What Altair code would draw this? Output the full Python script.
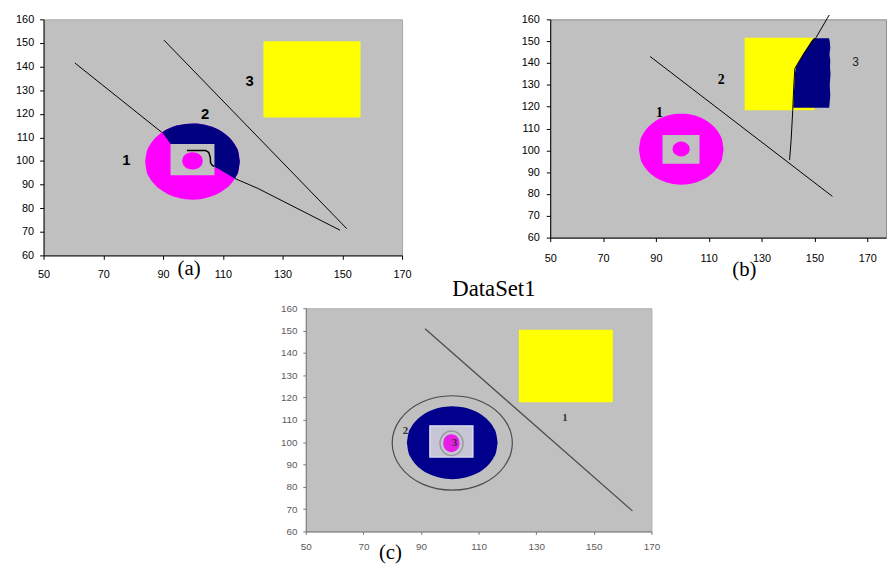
import altair as alt
import pandas as pd

GRAY = "#c0c0c0"
MAG = "#ff00ff"
NAVY = "#000080"
YEL = "#ffff00"
SERIF = "Liberation Serif"
SANS = "Liberation Sans"

# ---------------- panel (a) data ----------------
a_ring_x = [84.0, 84.5, 85.5, 87.0, 89.0, 91.5, 94.5, 97.5, 100.0, 102.5, 105.5, 108.5, 111.0, 113.0, 114.5, 115.2, 115.7]
a_ring_top = [99.8, 103.8, 106.6, 109.2, 111.5, 113.5, 115.0, 115.7, 115.9, 115.7, 114.8, 113.3, 111.2, 108.8, 105.9, 103.8, 99.8]
a_ring_bot = [99.8, 95.7, 92.9, 90.3, 88.0, 86.0, 84.6, 83.8, 83.6, 83.8, 84.7, 86.2, 88.3, 90.7, 93.6, 95.7, 99.8]

a_navy_x = [89.7, 91.5, 92.5, 94.5, 97.5, 100.0, 102.5, 105.5, 107.4, 108.5, 111.0, 113.0, 114.0, 114.5, 115.2, 115.7]
a_navy_top = [112.1, 113.5, 114.1, 115.0, 115.7, 115.9, 115.7, 114.8, 114.0, 113.3, 111.2, 108.8, 107.0, 105.9, 103.8, 99.8]
a_navy_bot = [112.1, 109.0, 107.2, 105.9, 103.9, 102.3, 100.7, 98.7, 97.5, 96.7, 94.8, 93.3, 92.6, 93.6, 95.7, 99.8]

a_hole = [92.5, 107.2, 94.0, 107.2]  # x1, x2, y1, y2

a_disk_x = [96.4, 96.6, 97.2, 98.2, 99.85, 101.5, 102.5, 103.1, 103.3]
a_disk_top = [100.05, 101.3, 102.4, 103.25, 103.7, 103.25, 102.4, 101.3, 100.05]
a_disk_bot = [100.05, 98.8, 97.7, 96.85, 96.4, 96.85, 97.7, 98.8, 100.05]

a_yellow = [123.6, 156.1, 118.4, 150.7]

a_line_seg = ["A", "A", "B", "B", "B", "B", "B", "B", "B", "C", "C", "C", "D", "D"]
a_line_x = [60.5, 89.7, 98.0, 104.3, 105.3, 105.8, 105.9, 106.5, 107.2, 114.0, 121.7, 149.2, 90.3, 151.5]
a_line_y = [141.5, 112.0, 104.4, 104.4, 103.6, 101.6, 99.2, 98.1, 97.7, 92.6, 88.4, 70.7, 151.2, 71.3]

a_lab_t = ["1", "2", "3"]
a_lab_x = [77.7, 104.1, 119.0]
a_lab_y = [100.5, 120.0, 133.7]

# ---------------- panel (b) data ----------------
b_ring_x = [83.6, 84.1, 85.1, 86.6, 88.6, 91.1, 94.1, 97.1, 99.6, 102.1, 105.1, 108.1, 110.6, 112.6, 114.1, 115.1, 115.6]
b_ring_top = [100.5, 104.5, 107.4, 110.0, 112.3, 114.3, 115.8, 116.6, 116.8, 116.6, 115.8, 114.3, 112.3, 110.0, 107.4, 104.5, 100.5]
b_ring_bot = [100.5, 96.5, 93.6, 91.0, 88.7, 86.7, 85.2, 84.4, 84.2, 84.4, 85.2, 86.7, 88.7, 91.0, 93.6, 96.5, 100.5]

b_hole = [92.5, 106.5, 93.8, 107.0]

b_disk_x = [96.3, 96.5, 97.1, 98.0, 99.55, 101.1, 102.0, 102.6, 102.8]
b_disk_top = [100.6, 101.8, 102.8, 103.6, 104.0, 103.6, 102.8, 101.8, 100.6]
b_disk_bot = [100.6, 99.4, 98.4, 97.6, 97.2, 97.6, 98.4, 99.4, 100.6]

b_yellow = [123.6, 150.0, 118.3, 151.6]

b_navy_y = [119.5, 125.0, 130.0, 135.0, 138.0, 141.0, 144.0, 147.0, 150.0, 151.4]
b_navy_xl = [142.0, 142.2, 142.4, 142.6, 143.0, 144.3, 145.6, 147.2, 148.8, 149.7]
b_navy_xr = [155.6, 156.0, 155.8, 156.1, 155.9, 156.0, 155.7, 156.0, 155.8, 155.5]

b_line_seg = ["E"] * 9 + ["F", "F"]
b_line_x = [140.6, 141.2, 141.8, 142.2, 142.6, 144.3, 146.5, 150.6, 155.6, 87.8, 156.8]
b_line_y = [95.6, 105.0, 118.3, 130.0, 137.5, 141.0, 145.0, 151.6, 162.0, 143.0, 78.9]

b_lab_t = ["1", "2"]
b_lab_x = [91.3, 114.7]
b_lab_y = [117.1, 132.0]
b_lab3 = ["3", 165.6, 140.3]

# ---------------- panel (c) data ----------------
c_ring_x = [85.1, 85.6, 86.6, 88.1, 90.1, 92.6, 95.6, 98.6, 100.85, 103.1, 106.1, 109.1, 111.6, 113.6, 115.1, 116.1, 116.6]
c_ring_top = [99.75, 103.8, 106.7, 109.35, 111.7, 113.7, 115.2, 115.9, 116.1, 115.9, 115.2, 113.7, 111.7, 109.35, 106.7, 103.8, 99.75]
c_ring_bot = [99.75, 95.7, 92.8, 90.15, 87.8, 85.8, 84.35, 83.6, 83.4, 83.6, 84.35, 85.8, 87.8, 90.15, 92.8, 95.7, 99.75]

c_hole = [93.1, 108.0, 93.3, 107.3]

c_disk_x = [97.7, 97.9, 98.4, 99.2, 100.55, 101.9, 102.7, 103.2, 103.4]
c_disk_top = [99.55, 101.0, 102.2, 103.1, 103.6, 103.1, 102.2, 101.0, 99.55]
c_disk_bot = [99.55, 98.1, 96.9, 96.0, 95.5, 96.0, 96.9, 98.1, 99.55]

c_halo_x = [104.6, 103.4, 100.6, 97.8, 96.6, 97.8, 100.6, 103.4]
c_halo_y = [99.5, 103.4, 105.0, 103.4, 99.5, 95.6, 94.0, 95.6]

c_circ_x = [121.7, 118.9, 111.3, 100.85, 90.4, 82.8, 80.0, 82.8, 90.4, 100.85, 111.3, 118.9]
c_circ_y = [99.65, 110.2, 118.0, 120.8, 118.0, 110.2, 99.65, 89.1, 81.3, 78.5, 81.3, 89.1]

c_yellow = [124.0, 156.6, 117.9, 150.4]

c_line_x = [91.4, 163.4]
c_line_y = [150.8, 69.2]

c_lab_t = ["1", "2", "3"]
c_lab_x = [140.0, 84.6, 101.6]
c_lab_y = [111.0, 105.0, 99.8]

X_TICKS = [50, 70, 90, 110, 130, 150, 170]
Y_TICKS = [60, 70, 80, 90, 100, 110, 120, 130, 140, 150, 160]


def make_axes(xdom, ydom, lab_color, lab_size, dom_color, xpad, ypad, tick):
    xs = alt.Scale(domain=xdom, nice=False, zero=False)
    ys = alt.Scale(domain=ydom, nice=False, zero=False)
    ax = alt.Axis(values=X_TICKS, title=None, grid=False, domainColor=dom_color,
                  tickColor=dom_color, tickSize=tick, labelPadding=xpad,
                  labelFont=SANS, labelFontSize=lab_size, labelColor=lab_color,
                  labelFlush=False, labelOverlap=False)
    ay = alt.Axis(values=Y_TICKS, title=None, grid=False, domainColor=dom_color,
                  tickColor=dom_color, tickSize=tick, labelPadding=ypad,
                  labelFont=SANS, labelFontSize=lab_size, labelColor=lab_color,
                  labelFlush=False, labelOverlap=False)

    def X(f):
        return alt.X(f, type="quantitative", scale=xs, axis=ax)

    def Y(f):
        return alt.Y(f, type="quantitative", scale=ys, axis=ay)

    return X, Y


def ellipse_area(X, Y, xs, top, bot, color):
    df = pd.DataFrame({"x": xs, "top": top, "bot": bot})
    return alt.Chart(df).mark_area(color=color, interpolate="monotone").encode(
        x=X("x"), y=Y("top"), y2=alt.Y2("bot"))


def box(X, Y, vals, color, stroke=None):
    df = pd.DataFrame({"x1": [vals[0]], "x2": [vals[1]], "y1": [vals[2]], "y2": [vals[3]]})
    kw = {"color": color}
    if stroke:
        kw.update(stroke=stroke, strokeWidth=1.5)
    return alt.Chart(df).mark_rect(**kw).encode(
        x=X("x1"), x2=alt.X2("x2"), y=Y("y1"), y2=alt.Y2("y2"))


def text_layer(X, Y, ts, xs, ys, **mk):
    df = pd.DataFrame({"t": ts, "x": xs, "y": ys})
    return alt.Chart(df).mark_text(**mk).encode(x=X("x"), y=Y("y"), text="t:N")


def lines(X, Y, seg, xs, ys, **mk):
    df = pd.DataFrame({"seg": seg, "x": xs, "y": ys, "i": list(range(len(xs)))})
    return alt.Chart(df).mark_line(**mk).encode(
        x=X("x"), y=Y("y"), detail="seg:N", order=alt.Order("i:Q"))


# ---------------- panel (a) ----------------
XA, YA = make_axes([50, 170], [60, 160], "black", 11, "black", 9, 6, 4)
panel_a = alt.layer(
    lines(XA, YA, a_line_seg, a_line_x, a_line_y, color="black", strokeWidth=1),
    ellipse_area(XA, YA, a_ring_x, a_ring_top, a_ring_bot, MAG),
    ellipse_area(XA, YA, a_navy_x, a_navy_top, a_navy_bot, NAVY),
    box(XA, YA, a_hole, GRAY),
    ellipse_area(XA, YA, a_disk_x, a_disk_top, a_disk_bot, MAG),
    box(XA, YA, a_yellow, YEL),
    lines(XA, YA, [s for s in a_line_seg if s == "B"],
          [x for s, x in zip(a_line_seg, a_line_x) if s == "B"],
          [y for s, y in zip(a_line_seg, a_line_y) if s == "B"],
          color="black", strokeWidth=1.5),
    text_layer(XA, YA, a_lab_t, a_lab_x, a_lab_y, font=SANS, fontSize=15,
               fontWeight="bold", color="black"),
    text_layer(XA, YA, ["(a)"], [98.7], [54.4], font=SERIF, fontSize=21,
               color="black", baseline="middle"),
).properties(width=363, height=239,
             view=alt.ViewBackground(fill=GRAY, stroke="#a8a8a8"))

# ---------------- panel (b) ----------------
XB, YB = make_axes([50, 177.1], [60, 160], "black", 11, "black", 11, 7, 4)
b_navy_df = pd.DataFrame({"y": b_navy_y, "xl": b_navy_xl, "xr": b_navy_xr})
panel_b = alt.layer(
    ellipse_area(XB, YB, b_ring_x, b_ring_top, b_ring_bot, MAG),
    box(XB, YB, b_hole, GRAY),
    ellipse_area(XB, YB, b_disk_x, b_disk_top, b_disk_bot, MAG),
    box(XB, YB, b_yellow, YEL),
    alt.Chart(b_navy_df).mark_area(color=NAVY, orient="horizontal").encode(
        y=YB("y"), x=XB("xl"), x2=alt.X2("xr")),
    lines(XB, YB, b_line_seg, b_line_x, b_line_y, color="black", strokeWidth=1),
    text_layer(XB, YB, b_lab_t, b_lab_x, b_lab_y, font=SERIF, fontSize=14,
               fontWeight="bold", color="black"),
    text_layer(XB, YB, [b_lab3[0]], [b_lab3[1]], [b_lab3[2]], font=SANS,
               fontSize=12, color="#222222"),
    text_layer(XB, YB, ["(b)"], [123.5], [45.1], font=SERIF, fontSize=21,
               color="black", baseline="middle"),
).properties(width=340, height=221,
             view=alt.ViewBackground(fill=GRAY, stroke="#8c8c8c"))

# ---------------- panel (c) ----------------
XC, YC = make_axes([50, 170], [60, 160], "#5a5a5a", 10, "#777777", 7, 6, 3)
halo_df = pd.DataFrame({"x": c_halo_x, "y": c_halo_y, "i": list(range(len(c_halo_x)))})
circ_df = pd.DataFrame({"x": c_circ_x, "y": c_circ_y, "i": list(range(len(c_circ_x)))})
panel_c = alt.layer(
    alt.Chart(circ_df).mark_line(color="#4a4a4a", strokeWidth=1.2,
                                 interpolate="cardinal-closed").encode(
        x=XC("x"), y=YC("y"), order=alt.Order("i:Q")),
    lines(XC, YC, ["G", "G"], c_line_x, c_line_y, color="#4a4a4a", strokeWidth=1.2),
    ellipse_area(XC, YC, c_ring_x, c_ring_top, c_ring_bot, "#00008c"),
    box(XC, YC, c_hole, "#c6c6d6", stroke="#dcdcf0"),
    alt.Chart(halo_df).mark_line(color="#9a9a9a", strokeWidth=1.5,
                                 interpolate="cardinal-closed").encode(
        x=XC("x"), y=YC("y"), order=alt.Order("i:Q")),
    ellipse_area(XC, YC, c_disk_x, c_disk_top, c_disk_bot, "#e61ee6"),
    box(XC, YC, c_yellow, YEL),
    text_layer(XC, YC, c_lab_t, c_lab_x, c_lab_y, font=SERIF, fontSize=11,
               fontWeight="bold", color="#333333"),
    text_layer(XC, YC, ["DataSet1"], [115.3], [165.5], font=SERIF, fontSize=23,
               color="black", baseline="alphabetic"),
    text_layer(XC, YC, ["(c)"], [79.4], [50.5], font=SERIF, fontSize=21,
               color="black", baseline="middle"),
).properties(width=350, height=226,
             view=alt.ViewBackground(fill=GRAY, stroke="#b0b0b0"))

spacer = alt.Chart(pd.DataFrame({"v": [0]})).mark_point(size=0, opacity=0).encode(
    x=alt.value(0), y=alt.value(0)
).properties(width=100, height=10, view=alt.ViewBackground(stroke="transparent"))

row1 = alt.hconcat(panel_a, panel_b, spacing=150, bounds="flush")
row2 = alt.hconcat(spacer, panel_c, spacing=165.5, bounds="flush")

chart = alt.vconcat(row1, row2, spacing=-3.5).properties(
    padding={"left": 7, "top": 1, "right": 0, "bottom": 0}
)

chart.save("out.html", embed_options={"renderer": "svg", "actions": False})
